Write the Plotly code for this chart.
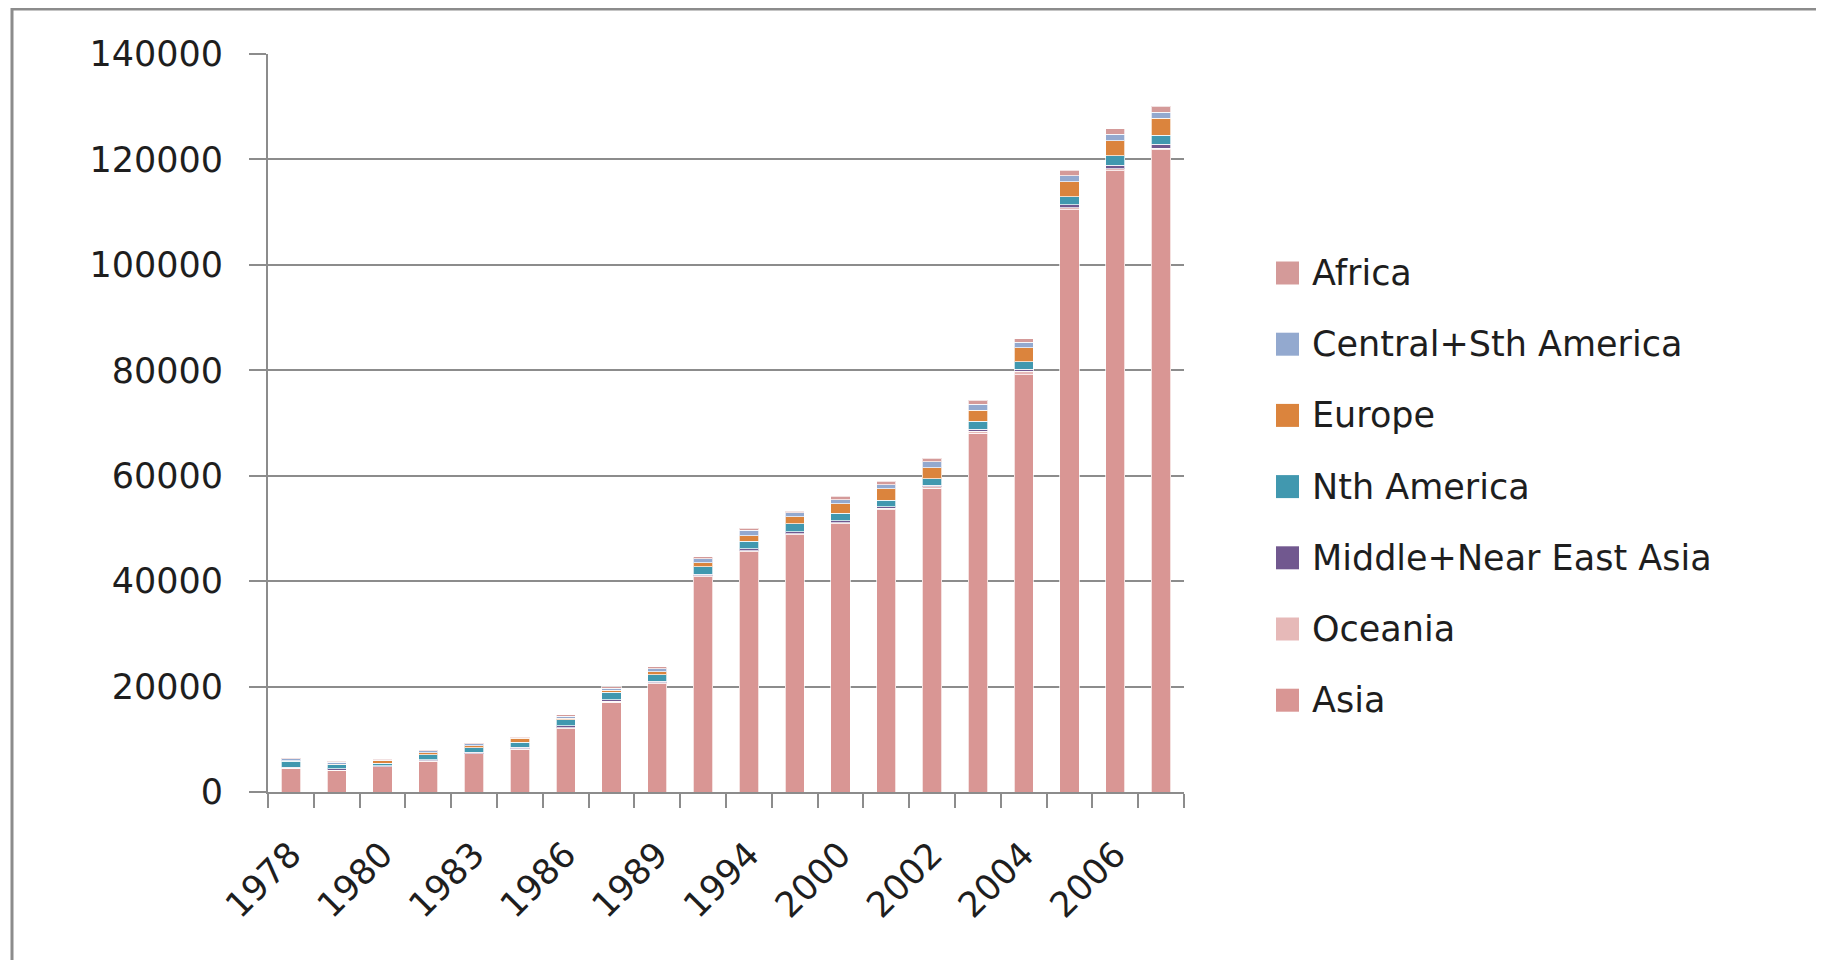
import plotly.graph_objects as go

# ---------------- data ----------------
years = ["1978", "1979", "1980", "1982", "1983", "1985", "1986", "1988", "1989", "1992",
         "1994", "1997", "2000", "2001", "2002", "2003", "2004", "2005", "2006", "2007"]
label_years = ["1978", "1980", "1983", "1986", "1989", "1994", "2000", "2002", "2004", "2006"]

asia = [4400, 4080, 4760, 5850, 7230, 8150, 11980, 16980, 20550, 40850,
        45550, 48800, 50850, 53500, 57580, 68050, 79160, 110500, 117900, 121850]
oceania = [60, 50, 40, 60, 70, 70, 190, 220, 150, 165,
           200, 230, 260, 300, 300, 400, 640, 300, 330, 300]
middle_near_east_asia = [250, 250, 200, 250, 250, 310, 380, 320, 320, 300,
                         440, 380, 310, 320, 320, 320, 390, 630, 630, 760]
nth_america = [1140, 820, 430, 880, 880, 880, 1140, 1450, 1200, 1390,
               1390, 1450, 1450, 1220, 1220, 1540, 1410, 1450, 1830, 1700]
europe = [120, 100, 500, 380, 380, 760, 320, 380, 630, 760,
          1070, 1390, 1800, 2190, 2120, 2120, 2640, 2840, 2900, 3160]
central_sth_america = [320, 330, 100, 360, 300, 150, 380, 330, 500, 790,
                       1010, 760, 770, 770, 1090, 1160, 1090, 1140, 1140, 1140]
africa = [160, 180, 160, 250, 240, 170, 310, 320, 380, 420,
          380, 250, 640, 640, 710, 710, 640, 1070, 1070, 1140]

series_names = ["Asia", "Oceania", "Middle+Near East Asia", "Nth America",
                "Europe", "Central+Sth America", "Africa"]
series_values = [asia, oceania, middle_near_east_asia, nth_america,
                 europe, central_sth_america, africa]
series_colors = ["#D99694", "#E6B9B8", "#71588F", "#4198AF",
                 "#DB843D", "#93A9CF", "#D49A99"]

y_ticks = [0, 20000, 40000, 60000, 80000, 100000, 120000, 140000]

# ---------------- layout constants (screen pixels) ----------------
W, H = 1824, 960
OFF = 8  # page body margin
L, R, T, B = 268 - OFF, 1184 - OFF, 54 - OFF, 792 - OFF
FONT = "DejaVu Sans"
GRAY = "#8C8C8C"
TXT = "#1E1E1E"

def px_x(p):
    return (p - OFF - L) / (R - L)

def px_y(p):
    return (B - (p - OFF)) / (B - T)

x_idx = list(range(len(years)))

fig = go.Figure()
for name, vals, col in zip(series_names, series_values, series_colors):
    fig.add_trace(go.Bar(
        x=x_idx, y=vals, name=name, width=0.42,
        marker=dict(color=col, line=dict(color="rgba(255,255,255,0.7)", width=1)),
        showlegend=False,
        hovertemplate=name + "<br>%{customdata}: %{y}<extra></extra>",
        customdata=years,
    ))

# manual legend (top item = last stacked series)
shapes = []
annotations = []
leg_top = 273
leg_step = 71.2
for i, (name, col) in enumerate(zip(reversed(series_names), reversed(series_colors))):
    cy = leg_top + i * leg_step
    shapes.append(dict(type="rect", xref="paper", yref="paper",
                       x0=px_x(1276), x1=px_x(1299), y0=px_y(cy + 11.5), y1=px_y(cy - 11.5),
                       fillcolor=col, line=dict(width=0)))
    annotations.append(dict(xref="paper", yref="paper", x=px_x(1310), y=px_y(cy),
                            xanchor="left", yanchor="middle", showarrow=False,
                            text=name, font=dict(family=FONT, size=35, color=TXT)))

# outer frame
shapes.append(dict(type="rect", xref="paper", yref="paper",
                   x0=px_x(12), x1=px_x(1840), y0=px_y(990), y1=px_y(9),
                   line=dict(color=GRAY, width=3), fillcolor="rgba(0,0,0,0)", layer="above"))

label_pos = [years.index(y) for y in label_years]

fig.update_layout(
    width=W, height=H,
    margin=dict(l=L, r=W - R, t=T, b=H - B, pad=0),
    paper_bgcolor="white", plot_bgcolor="white",
    barmode="stack",
    showlegend=False,
    font=dict(family=FONT, size=35, color=TXT),
    shapes=shapes,
    annotations=annotations,
    xaxis=dict(
        range=[-0.5, len(years) - 0.5],
        tickmode="array", tickvals=label_pos, ticktext=label_years,
        tickangle=-45, ticks="outside", ticklen=0, tickcolor=GRAY,
        ticklabelstandoff=26,
        tickfont=dict(family=FONT, size=35, color=TXT),
        showgrid=False, zeroline=False,
        showline=True, linecolor=GRAY, linewidth=2,
        minor=dict(tick0=-0.5, dtick=1, ticks="outside", ticklen=14,
                   tickcolor=GRAY, tickwidth=2, showgrid=False),
    ),
    yaxis=dict(
        range=[0, 140000], tickmode="array", tickvals=y_ticks,
        ticktext=[str(v) for v in y_ticks],
        ticks="outside", ticklen=17, tickcolor=GRAY, tickwidth=2,
        ticklabelstandoff=19,
        tickfont=dict(family=FONT, size=35, color=TXT),
        showgrid=True, gridcolor=GRAY, gridwidth=2,
        zeroline=False, showline=True, linecolor=GRAY, linewidth=2,
    ),
)

fig.write_html("out.html")
